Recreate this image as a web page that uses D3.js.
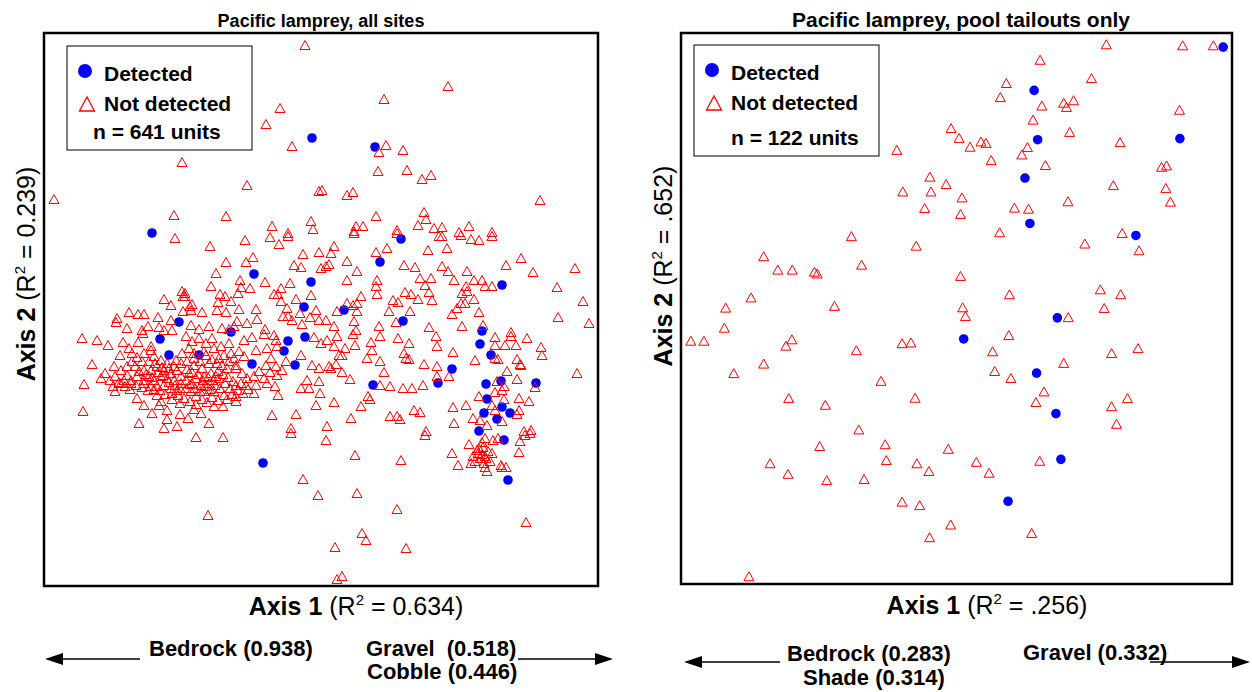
<!DOCTYPE html>
<html>
<head>
<meta charset="utf-8">
<script src="https://cdn.jsdelivr.net/npm/d3@7"></script>
<style>
  body { margin: 0; background: #fff; }
  svg { display: block; }
  text { font-family: "Liberation Sans", Arial, sans-serif; }
</style>
</head>
<body>
<div id="chart"></div>
<script>
// ordination scores (plot units, axis 2 counted from the top)
var allDetected = [[268,105],[108,200],[331,114],[357,206],[336,229],[300,277],[359,288],[458,252],[438,298],[210,241],[267,249],[260,274],[187,299],[135,289],[116,306],[125,322],[155,322],[208,331],[244,308],[240,318],[251,332],[261,304],[408,336],[329,352],[394,350],[436,311],[447,322],[442,351],[457,348],[492,350],[443,366],[458,374],[440,380],[466,380],[453,386],[435,398],[219,430],[460,407],[464,447]];

var allNotDetected = [
  [261,12],[236,75],[222,91],[248,113],[138,129],[203,152],[275,158],[10,166],[130,182],[182,183],[228,193],[267,188],[269,196],[244,200],
  [404,53],[340,66],[342,112],[335,119],[359,117],[334,138],[363,137],[378,146],[387,142],[278,157],[303,162],[309,159],[496,167],[332,183],[380,179],[382,186],[312,193],[319,193],[310,198],[353,197],[374,192],[390,195],[398,194],[425,193],[415,199],[448,199],
  [131,205],[120,266],[127,272],[85,279],[94,281],[100,281],[114,284],[73,285],[72,289],[83,295],[104,293],[98,297],[115,294],[127,287],[138,258],[139,263],[139,278],[120,297],[128,297],
  [201,207],[226,204],[235,211],[244,203],[166,213],[209,224],[202,229],[182,229],[259,221],[250,232],[257,234],[275,219],[277,235],[172,240],[196,247],[221,249],[167,253],[197,254],[206,255],[194,260],[176,261],[181,263],[187,268],[174,269],[230,261],[237,255],[246,250],[234,261],[237,268],[252,266],[267,262],[243,275],[212,276],[195,276],[173,277],[182,279],[158,279],[146,273],[148,271],[141,260],[141,263],[147,277],[244,283],[239,283],[248,287],[256,280],[266,284],[272,277],[275,287],[258,291],[213,286],[203,290],[193,288],[190,293],[185,296],[178,295],[165,293],[155,296],[147,292],[221,296],
  [310,200],[353,200],[395,203],[398,203],[417,202],[290,213],[287,220],[343,215],[332,219],[384,217],[403,215],[303,228],[285,231],[282,233],[313,238],[360,232],[371,234],[398,233],[404,238],[410,247],[303,247],[333,247],[332,253],[333,261],[376,245],[387,245],[381,252],[385,259],[361,259],[367,261],[374,266],[388,267],[317,263],[303,270],[309,272],[313,270],[313,278],[293,278],[349,267],[354,269],[345,278],[366,278],[352,289],[335,293],[310,288],[312,297],[290,293],[282,287],[385,294],[408,281],[413,275],[417,270],[418,260],[418,293],
  [448,203],[427,206],[435,207],[477,225],[462,232],[489,239],[531,235],[423,238],[430,247],[438,247],[441,253],[448,253],[422,253],[423,258],[430,266],[421,270],[435,279],[513,254],[539,268],[514,284],[545,290],[439,292],[467,299],
  [38,305],[53,307],[64,312],[79,309],[94,309],[99,300],[107,313],[85,315],[76,322],[48,331],[70,333],[40,351],[39,378],[95,390],[71,343],[69,353],[77,350],[87,350],[113,362],[117,368],[128,360],[123,377],[123,386],[136,370],[115,372],
  [88,320],[93,324],[88,328],[83,333],[91,333],[98,328],[100,337],[77,337],[83,342],[80,347],[87,347],[93,343],[100,347],[105,343],[110,347],[117,343],[123,345],[130,347],[137,350],[107,337],[113,333],[120,337],[127,340],[133,337],[137,330],[132,327],[138,320],[110,323],[107,317],[100,320],[113,353],[120,352],[127,355],[133,357],[107,353],[100,350],[137,343],[130,333],[117,327],[123,330],
  [192,332],[192,335],[180,322],[177,313],[200,307],[208,304],[220,301],[230,302],[232,307],[223,315],[233,313],[227,325],[222,332],[232,333],[210,343],[200,323],[212,317],[257,322],[268,332],[275,335],[270,304],[277,310],[275,348],[263,347],[257,355],[265,355],[276,360],[233,342],[223,350],[231,353],[234,362],[212,352],[210,360],[197,350],[202,352],[192,352],[180,362],[192,363],[192,368],[172,343],[175,345],[170,373],[179,373],[160,358],[152,363],[147,358],[165,390],[228,382],[252,381],[247,395],[272,372],
  [142,303],[148,308],[155,305],[162,310],[168,305],[145,315],[150,320],[160,318],[170,315],[175,325],[143,328],[150,332],[158,335],[165,330],[145,340],[152,345],[160,343],[167,340],[148,350],[157,352],[165,350],[185,310],[187,320],[183,335],[142,355],[170,358],
  [95,338],[102,341],[108,344],[114,339],[119,342],[125,349],[131,352],[136,355],[142,347],[146,351],[151,355],[156,358],[161,353],[166,356],[171,352],[176,355],[181,350],[186,355],[143,336],[148,339],[154,341],[159,347],[164,344],[169,347],[174,338],[179,341],[184,344],[189,348],[140,365],[146,368],[152,371],[158,366],[163,369],[168,364],[174,367],[183,366],[188,361],[194,357],[199,360],[204,356],[134,362],[128,366],[121,361],[116,357],[110,356],[104,357],[98,354],[92,352],[86,356],[81,353],[75,349],[71,358],[66,347],[61,340],[57,345],[105,328],[111,330],[118,334],[125,335],[150,325],[156,328],[162,322],[168,326],[173,330],[178,332],[185,328],[190,325],[195,318],[198,340],[203,345],[215,338],[220,345],[226,339],[238,337],[242,328],[150,376],[157,380],[136,381],[144,385],[133,393],[120,395],[108,380],[100,372],[93,365],
  [309,301],[293,303],[283,307],[336,303],[354,305],[365,310],[392,303],[393,313],[290,313],[301,315],[311,312],[327,309],[328,317],[295,322],[298,322],[323,325],[336,328],[360,320],[362,325],[365,326],[380,331],[393,333],[409,319],[285,333],[287,335],[292,331],[298,339],[306,346],[340,339],[393,343],[405,343],[336,352],[346,353],[359,355],[368,355],[379,352],[324,363],[326,366],[290,369],[317,373],[370,377],[376,379],[409,374],[346,383],[353,383],[356,386],[307,385],[283,393],[410,390],[382,398],
  [451,304],[467,303],[483,305],[451,312],[461,312],[472,312],[497,314],[498,322],[431,327],[451,325],[454,326],[473,326],[476,331],[477,332],[463,338],[533,340],[473,346],[453,348],[460,353],[491,354],[451,359],[458,357],[435,363],[475,365],[485,368],[460,366],[422,372],[448,372],[451,377],[475,377],[473,381],[429,385],[436,387],[458,388],[443,392],[480,398],[487,397],
  [152,404],[179,404],[247,400],[282,407],[381,402],[311,422],[357,427],[259,446],[274,462],[313,460],[164,482],[353,476],[318,500],[322,507],[291,514],[362,515],[293,546],[298,543],[482,489],[408,420],[414,432],[425,411],[435,415],[438,409],[429,423],[438,421],[441,423],[442,425],[436,425],[441,434],[457,432],[458,434],[462,434],[441,405],[449,407],[454,405],[476,408],[475,419],[481,402],[486,400],
  [433,417],[439,414],[444,418],[431,428],[446,428],[440,430],[434,420],[448,420],[427,430],[443,438]
];

var poolDetected = [[1540,40],[1003,163],[1013,303],[1417,300],[977,412],[991,541],[1292,575],[1069,809],[803,869],[1010,966],[1065,1081],[1079,1211],[929,1330]];

var poolNotDetected = [
  [1208,32],[1425,35],[1512,35],[1020,76],[1166,128],[924,142],[907,182],[1025,206],[1087,198],[1115,191],[1095,210],[1416,218],[1000,246],[767,270],[790,298],[1104,281],[852,308],[866,312],[821,323],[613,332],[984,324],[968,345],[1247,310],[881,361],[1035,375],[1365,380],[1379,376],
  [707,408],[753,429],[630,450],[710,450],[1228,432],[1377,440],[798,467],[1099,478],[1390,479],[692,497],[947,496],[987,499],[794,514],[905,566],[484,577],[1253,568],[668,604],[1147,598],[1301,617],
  [235,634],[275,672],[316,672],[379,678],[387,683],[513,658],[794,690],[1191,728],[1249,742],[933,742],[199,751],[127,780],[436,775],[800,779],[808,804],[1202,781],[1100,807],[123,837],[28,874],[65,874],[315,870],[298,888],[628,881],[653,879],[498,901],[931,858],[885,904],[1223,909],[1298,895],
  [235,939],[150,966],[1087,937],[891,960],[937,980],[568,988],[1031,1018],[1008,1048],[306,1037],[410,1056],[665,1036],[1268,1037],[1223,1060],[1237,1110],[505,1126],[394,1173],[580,1168],[759,1181],[253,1222],[304,1252],[414,1270],[520,1267],[583,1213],[670,1222],[704,1244],[839,1218],[875,1249],[1019,1215],[628,1331],[678,1341],[766,1396],[706,1432],[996,1420],[193,1543]
];

var legendLabels = ["Detected", "Not detected"];

var panels = [
  {
    title: "Pacific lamprey, all sites", titleSize: 18, titleX: 321,
    detected: allDetected, notDetected: allNotDetected,
    xDomain: [0, 554], yDomain: [0, 553],
    left: 44, right: 598, top: 33, bottom: 586,
    n: "n = 641 units",
    legend: {x: 67, y: 46, w: 185, h: 104, nx: 93},
    x1R2: " = 0.634)", x2R2: " = 0.239)",
    yLabelX: 35, yLabelY: 274, xLabelX: 356, xLabelY: 615,
    arrowY: 659, leftArrow: [45, 140], rightArrow: [518, 613],
    leftText: [{t: "Bedrock (0.938)", x: 149, y: 656}],
    rightText: [{t: "Gravel  (0.518)", x: 366, y: 656}, {t: "Cobble (0.446)", x: 367, y: 679}]
  },
  {
    title: "Pacific lamprey, pool tailouts only", titleSize: 21, titleX: 961,
    detected: poolDetected, notDetected: poolNotDetected,
    xDomain: [0, 1565], yDomain: [0, 1565],
    left: 681, right: 1232, top: 33, bottom: 584,
    n: "n = 122 units",
    legend: {x: 694, y: 45, w: 185, h: 111, nx: 731},
    x1R2: " = .256)", x2R2: " = .652)",
    yLabelX: 672, yLabelY: 266, xLabelX: 987, xLabelY: 614,
    arrowY: 662, leftArrow: [684, 780], rightArrow: [1150, 1250],
    leftText: [{t: "Bedrock (0.283)", x: 787, y: 661}, {t: "Shade (0.314)", x: 803, y: 685}],
    rightText: [{t: "Gravel (0.332)", x: 1023, y: 660}]
  }
];

var svg = d3.select("#chart").append("svg")
    .attr("width", 1252)
    .attr("height", 692);

// open triangle marker
function tri(w, h) {
  return "M0," + (-h / 2) + "L" + (w / 2) + "," + (h / 2) + "L" + (-w / 2) + "," + (h / 2) + "Z";
}

function axisLabel(g, name, r2, x, y, rotate) {
  var t = g.append("text")
      .attr("text-anchor", "middle")
      .attr("font-size", 25)
      .attr("fill", "#000");
  if (rotate) t.attr("transform", "translate(" + x + "," + y + ") rotate(-90)");
  else t.attr("x", x).attr("y", y);
  t.append("tspan").attr("font-weight", "bold").text(name);
  t.append("tspan").text(" (R");
  t.append("tspan").attr("font-size", 15).attr("dy", -10).text("2");
  t.append("tspan").attr("dy", 10).text(r2);
}

function arrow(g, x1, x2, y, headLeft) {
  g.append("line")
      .attr("x1", headLeft ? x1 + 16 : x1).attr("x2", headLeft ? x2 : x2 - 16)
      .attr("y1", y).attr("y2", y)
      .attr("stroke", "#000").attr("stroke-width", 1.5);
  var tip = headLeft ? x1 : x2, back = headLeft ? x1 + 18 : x2 - 18;
  g.append("path")
      .attr("d", "M" + tip + "," + y + "L" + back + "," + (y - 6) + "L" + back + "," + (y + 6) + "Z")
      .attr("fill", "#000");
}

panels.forEach(function(p) {
  var g = svg.append("g");

  var x = d3.scaleLinear().domain(p.xDomain).range([p.left, p.right]);
  var y = d3.scaleLinear().domain(p.yDomain).range([p.top, p.bottom]);

  // frame
  g.append("rect")
      .attr("x", p.left).attr("y", p.top)
      .attr("width", p.right - p.left).attr("height", p.bottom - p.top)
      .attr("fill", "#fff").attr("stroke", "#000").attr("stroke-width", 2.5);

  // detected units
  g.append("g").selectAll("circle")
      .data(p.detected)
    .enter().append("circle")
      .attr("cx", function(d) { return x(d[0]); })
      .attr("cy", function(d) { return y(d[1]); })
      .attr("r", 4.8)
      .attr("fill", "#0000ff");

  // not detected units
  g.append("g").selectAll("path")
      .data(p.notDetected)
    .enter().append("path")
      .attr("d", tri(10, 9))
      .attr("transform", function(d) { return "translate(" + x(d[0]) + "," + y(d[1]) + ")"; })
      .attr("fill", "none")
      .attr("stroke", "#ff0000")
      .attr("stroke-width", 1);

  // legend
  var L = p.legend;
  var lg = g.append("g");
  lg.append("rect")
      .attr("x", L.x).attr("y", L.y).attr("width", L.w).attr("height", L.h)
      .attr("fill", "#fff").attr("stroke", "#000").attr("stroke-width", 1);
  lg.append("circle")
      .attr("cx", L.x + 18).attr("cy", L.y + 25).attr("r", 7)
      .attr("fill", "#0000ff");
  lg.append("path")
      .attr("d", tri(15, 14))
      .attr("transform", "translate(" + (L.x + 20) + "," + (L.y + 58) + ")")
      .attr("fill", "none").attr("stroke", "#ff0000").attr("stroke-width", 1.3);
  lg.selectAll("text.lab")
      .data(legendLabels)
    .enter().append("text")
      .attr("class", "lab")
      .attr("x", L.x + 37)
      .attr("y", function(d, i) { return L.y + 35 + i * 30; })
      .attr("font-size", 21).attr("font-weight", "bold")
      .text(function(d) { return d; });
  lg.append("text")
      .attr("x", L.nx).attr("y", L.y + L.h - 11)
      .attr("font-size", 21).attr("font-weight", "bold")
      .text(p.n);

  // title
  g.append("text")
      .attr("x", p.titleX).attr("y", 27)
      .attr("text-anchor", "middle")
      .attr("font-size", p.titleSize).attr("font-weight", "bold")
      .text(p.title);

  axisLabel(g, "Axis 1", p.x1R2, p.xLabelX, p.xLabelY, false);
  axisLabel(g, "Axis 2", p.x2R2, p.yLabelX, p.yLabelY, true);

  // loading arrows
  arrow(g, p.leftArrow[0], p.leftArrow[1], p.arrowY, true);
  arrow(g, p.rightArrow[0], p.rightArrow[1], p.arrowY, false);
  p.leftText.concat(p.rightText).forEach(function(t) {
    g.append("text")
        .attr("x", t.x).attr("y", t.y)
        .attr("font-size", 22).attr("font-weight", "bold")
        .attr("xml:space", "preserve")
        .text(t.t);
  });
});
</script>
</body>
</html>
